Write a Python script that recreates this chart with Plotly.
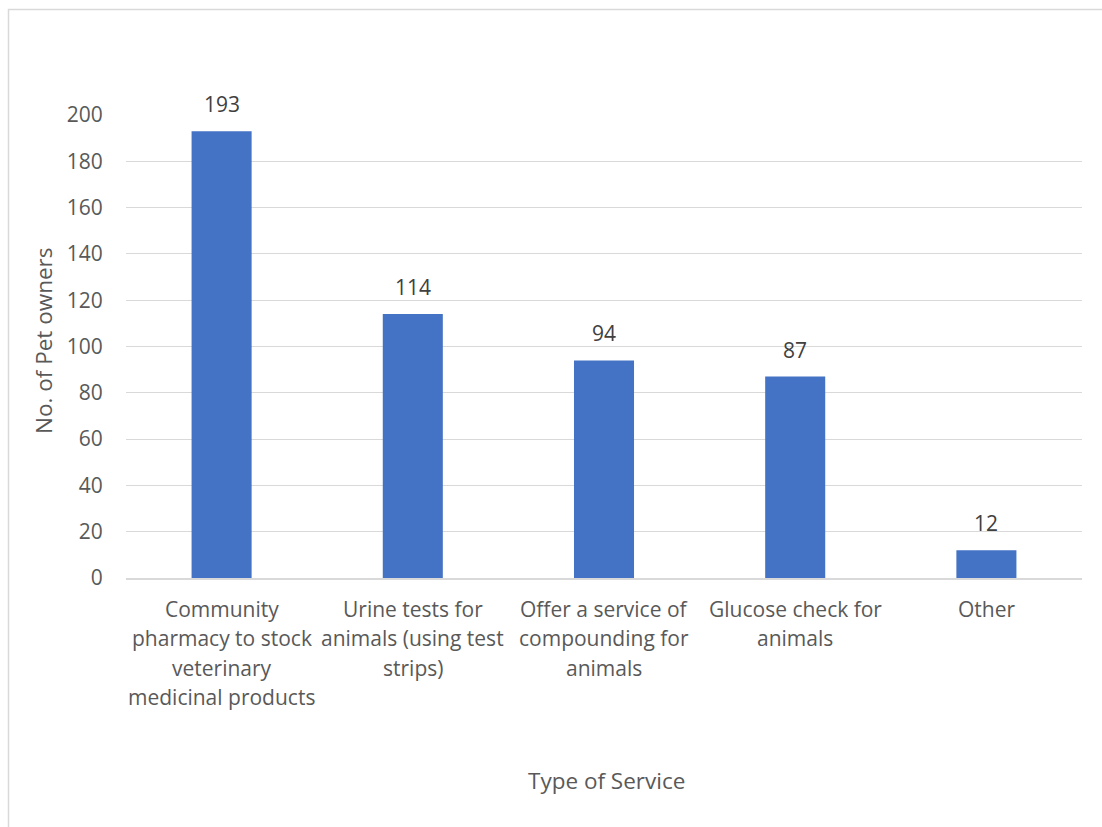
import plotly.graph_objects as go

categories = [
    "Community pharmacy to stock veterinary medicinal products",
    "Urine tests for animals (using test strips)",
    "Offer a service of compounding for animals",
    "Glucose check for animals",
    "Other",
]
category_lines = [
    ["Community", "pharmacy to stock", "veterinary", "medicinal products"],
    ["Urine tests for", "animals (using test", "strips)"],
    ["Offer a service of", "compounding for", "animals"],
    ["Glucose check for", "animals"],
    ["Other"],
]
values = [193, 114, 94, 87, 12]
y_ticks = [0, 20, 40, 60, 80, 100, 120, 140, 160, 180, 200]

FONT = "Open Sans"
TXT = "#595959"
W, H = 1102, 827
L, R, T, B = 126, 20, 115, 249
pw, ph = W - L - R, H - T - B

fig = go.Figure()
fig.add_trace(go.Bar(
    x=categories, y=values,
    marker=dict(color="#4472C4", line=dict(width=0)),
    hoverinfo="x+y",
))

annotations = []
for c, v in zip(categories, values):
    annotations.append(dict(x=c, y=v, xref="x", yref="y", text=str(v),
                            showarrow=False, yanchor="bottom", yshift=11,
                            font=dict(family=FONT, size=21, color="#404040")))
for c, lines in zip(categories, category_lines):
    for i, ln in enumerate(lines):
        annotations.append(dict(x=c, y=0, xref="x", yref="y", text=ln,
                                showarrow=False, yanchor="middle",
                                yshift=-(31 + 29.4 * i),
                                font=dict(family=FONT, size=21, color=TXT)))
annotations.append(dict(x=(606 - L) / pw, y=(H - B - 780) / ph, xref="paper", yref="paper",
                        text="Type of Service", showarrow=False,
                        xanchor="center", yanchor="middle",
                        font=dict(family=FONT, size=22.5, color=TXT)))
annotations.append(dict(x=(43 - L) / pw, y=(H - B - 341) / ph, xref="paper", yref="paper",
                        text="No. of Pet owners", showarrow=False, textangle=-90,
                        xanchor="center", yanchor="middle",
                        font=dict(family=FONT, size=22.5, color=TXT)))

fig.update_layout(
    width=W, height=H,
    margin=dict(l=L, r=R, t=T, b=B, autoexpand=False),
    paper_bgcolor="white", plot_bgcolor="white",
    bargap=0.686,
    showlegend=False,
    annotations=annotations,
    shapes=[dict(type="rect", xref="paper", yref="paper",
                 x0=(8.5 - L) / pw, x1=1.2, y0=-0.7, y1=(H - B - 9.5) / ph,
                 line=dict(color="#D9D9D9", width=1.5), fillcolor="rgba(0,0,0,0)",
                 layer="below")],
    font=dict(family=FONT, color=TXT),
)
fig.update_xaxes(showticklabels=False, showgrid=False, showline=True,
                 linecolor="#D9D9D9", linewidth=1.5, ticks="", zeroline=False)
fig.update_yaxes(range=[0, 200], tickvals=y_ticks, showgrid=True,
                 gridcolor="#D9D9D9", gridwidth=1.2, zeroline=False,
                 showline=False, ticks="outside", ticklen=18, tickcolor="rgba(0,0,0,0)",
                 tickfont=dict(family=FONT, size=21, color=TXT), automargin=False)

fig.write_html("out.html")
